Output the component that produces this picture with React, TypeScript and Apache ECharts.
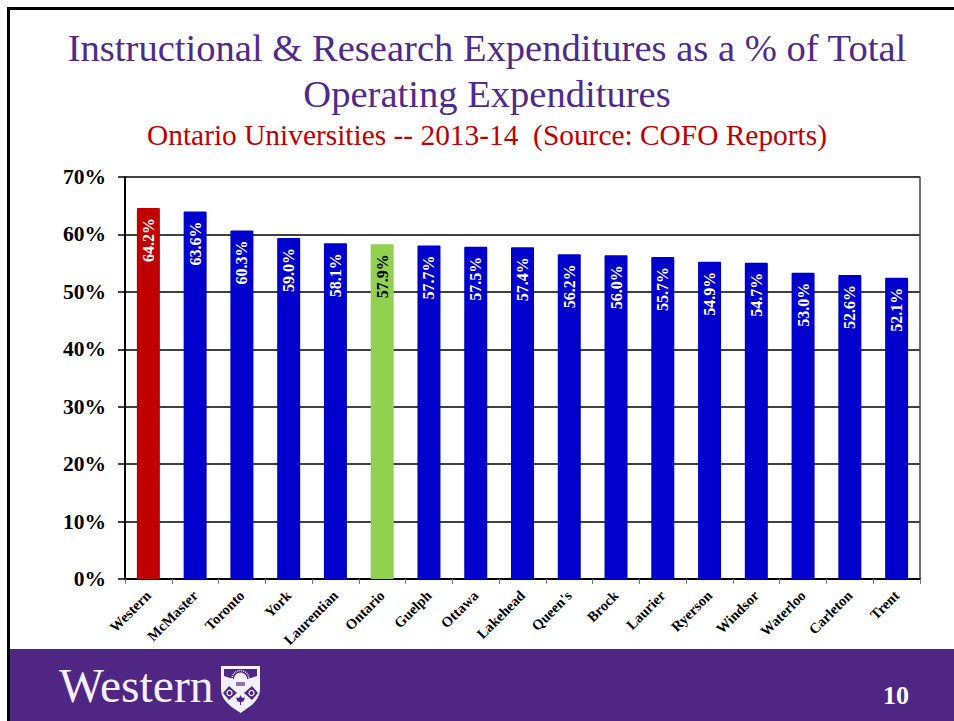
import React, { useEffect, useRef } from "react";
import * as echarts from "echarts";

const categories = ["Western","McMaster","Toronto","York","Laurentian","Ontario","Guelph","Ottawa","Lakehead","Queen's","Brock","Laurier","Ryerson","Windsor","Waterloo","Carleton","Trent"];
const values = [64.2,63.6,60.3,59.0,58.1,57.9,57.7,57.5,57.4,56.2,56.0,55.7,54.9,54.7,53.0,52.6,52.1];
const barColors: Record<string, string> = { Western: "#c00000", Ontario: "#92d050" };
const defaultBar = "#0000cc";
const titleLines = ["Instructional & Research Expenditures as a % of Total", "Operating Expenditures"];
const subtitle = "Ontario Universities -- 2013-14  (Source: COFO Reports)";
const SERIF = "'Liberation Serif', 'Times New Roman', serif";
const PURPLE = "#4f2683";
const LOGO_WHITE = "#f4f0f8";

echarts.graphic.registerShape("shieldOutline", echarts.graphic.extendPath(
  "M0 0 L39 0 L39 23 C39 35 28 41 19.5 47 C11 41 0 35 0 23 Z", {}) as any);

export default function App() {
  const ref = useRef<HTMLDivElement>(null);
  useEffect(() => {
    document.body.style.margin = "0";
    document.body.style.background = "#fff";
    const chart = echarts.init(ref.current!, undefined, { renderer: "svg" });
    chart.setOption({
      animation: false,
      backgroundColor: "#fff",
      grid: { left: 125, right: 34, top: 177, bottom: 142, containLabel: false },
      xAxis: {
        type: "category",
        data: categories,
        axisLine: { lineStyle: { color: "#000", width: 2 } },
        axisTick: { show: true, alignWithLabel: false, length: 5, lineStyle: { color: "#777", width: 1 } },
        axisLabel: { rotate: 45, interval: 0, margin: 14, color: "#000", fontFamily: SERIF, fontWeight: "bold", fontSize: 14.5 },
      },
      yAxis: [
        {
          type: "value",
          min: 0,
          max: 70,
          interval: 10,
          axisLine: { show: true, lineStyle: { color: "#000", width: 2 } },
          axisTick: { show: true, length: 7, lineStyle: { color: "#000", width: 1.5 } },
          axisLabel: { formatter: "{value}%", margin: 19, color: "#000", fontFamily: SERIF, fontWeight: "bold", fontSize: 21.5 },
          splitLine: { show: true, lineStyle: { color: "#000", width: 1.5 } },
        },
        {
          // The reference's bars stand about 2px taller than the printed gridlines imply.
          type: "value",
          position: "right",
          min: 0,
          max: 69.55,
          axisLine: { show: true, lineStyle: { color: "#444", width: 1.5 } },
          axisTick: { show: false },
          axisLabel: { show: false },
          splitLine: { show: false },
        },
      ],
      series: [{
        type: "bar",
        yAxisIndex: 1,
        barWidth: 23,
        z: 3,
        data: values.map((v, i) => ({
          value: v,
          itemStyle: { color: barColors[categories[i]] ?? defaultBar },
          label: { color: categories[i] === "Ontario" ? "#000" : "#fff" },
        })),
        itemStyle: { borderRadius: 1 },
        label: {
          show: true,
          position: "insideTop",
          distance: 10,
          rotate: 90,
          align: "right",
          verticalAlign: "middle",
          fontFamily: SERIF,
          fontWeight: "bold",
          fontSize: 16,
          formatter: (p: any) => p.value.toFixed(1) + "%",
        },
      }],
      graphic: [
        { type: "rect", z: 0, shape: { x: 7, y: 7, width: 947, height: 3 }, style: { fill: "#000" } },
        { type: "rect", z: 0, shape: { x: 7, y: 7, width: 3, height: 714 }, style: { fill: "#000" } },
        { type: "rect", z: 0, shape: { x: 10, y: 649, width: 944, height: 72 }, style: { fill: PURPLE } },
        { type: "text", x: 487, y: 28, style: { text: titleLines[0], font: `38.6px ${SERIF}`, fill: "#4f2a8a", textAlign: "center" } },
        { type: "text", x: 487, y: 74, style: { text: titleLines[1], font: `38.6px ${SERIF}`, fill: "#4f2a8a", textAlign: "center" } },
        { type: "text", x: 487, y: 120, style: { text: subtitle, font: `29.4px ${SERIF}`, fill: "#c00000", textAlign: "center" } },
        { type: "text", x: 59, y: 662, style: { text: "Western", font: `47.5px ${SERIF}`, fill: LOGO_WHITE } },
        {
          type: "group",
          x: 221,
          y: 666,
          children: [
            { type: "shieldOutline", style: { fill: LOGO_WHITE } },
            { type: "polygon", shape: { points: [[3,3],[36,3],[36,10],[27,13],[12,13],[3,10]] }, style: { fill: PURPLE } },
            { type: "sector", shape: { cx: 19.5, cy: 13, r: 6.5, r0: 0, startAngle: Math.PI, endAngle: 2 * Math.PI }, style: { fill: LOGO_WHITE } },
            { type: "arc", shape: { cx: 19.5, cy: 13, r: 8.5, startAngle: Math.PI, endAngle: 2 * Math.PI }, style: { stroke: LOGO_WHITE, fill: "none", lineWidth: 1.5, lineDash: [1, 1] } },
            { type: "rect", shape: { x: 15, y: 16, width: 9, height: 4 }, style: { fill: "#8a74a8" } },
            { type: "polygon", shape: { points: [[8,20],[16,27],[8,34],[2,27]] }, style: { fill: PURPLE } },
            { type: "polygon", shape: { points: [[31,20],[37,27],[31,34],[23,27]] }, style: { fill: PURPLE } },
            { type: "circle", shape: { cx: 8.5, cy: 27, r: 2.5 }, style: { fill: "none", stroke: LOGO_WHITE, lineWidth: 1.2 } },
            { type: "circle", shape: { cx: 30.5, cy: 27, r: 2.5 }, style: { fill: "none", stroke: LOGO_WHITE, lineWidth: 1.2 } },
            { type: "polygon", shape: { points: [[19.5,29],[21,32],[24,31.5],[22.5,35.5],[20,36],[20,39],[19,39],[19,36],[16.5,35.5],[15,31.5],[18,32]] }, style: { fill: PURPLE } },
          ],
        },
        { type: "text", x: 883, y: 682, style: { text: "10", font: `bold 26px ${SERIF}`, fill: "#fff" } },
      ],
    });
    return () => chart.dispose();
  }, []);
  return <div ref={ref} style={{ width: 954, height: 721 }} />;
}
